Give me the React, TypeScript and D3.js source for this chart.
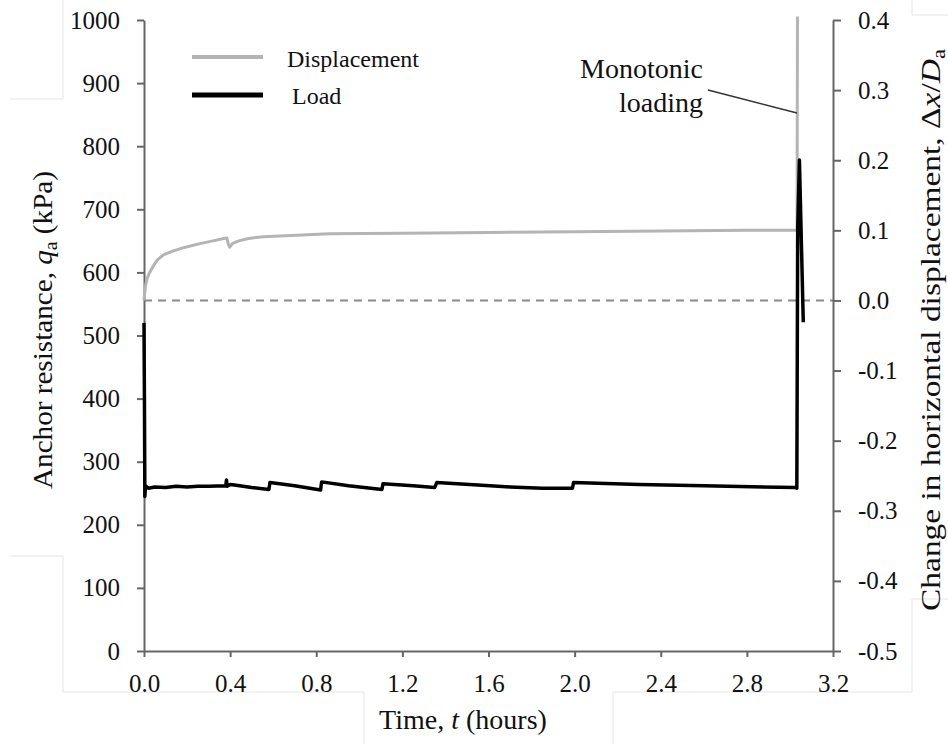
import React, { useEffect, useRef } from 'react'
import * as d3 from 'd3'

// displacement record (right axis, Δx/Da)
const dispTime = [0, 0.003, 0.008, 0.015, 0.028, 0.045, 0.06, 0.09, 0.13, 0.17, 0.245, 0.32, 0.365, 0.385, 0.392, 0.398, 0.41, 0.44, 0.48, 0.553, 0.71, 0.86, 1.2, 1.6, 2.0, 2.4, 2.8, 3.033, 3.035]
const dispValue = [0, 0.01, 0.022, 0.032, 0.041, 0.05, 0.057, 0.065, 0.07, 0.074, 0.08, 0.085, 0.088, 0.089, 0.08, 0.076, 0.081, 0.085, 0.088, 0.091, 0.093, 0.095, 0.096, 0.097, 0.098, 0.099, 0.1, 0.1, 0.405]

// load record (left axis, kPa)
const loadTime = [0, 0.002, 0.004, 0.007, 0.02, 0.05, 0.1, 0.15, 0.2, 0.25, 0.3, 0.38, 0.383, 0.386, 0.4, 0.42, 0.5, 0.58, 0.585, 0.7, 0.82, 0.825, 0.95, 1.105, 1.11, 1.25, 1.35, 1.36, 1.55, 1.7, 1.85, 1.99, 1.995, 2.3, 2.6, 3.026, 3.032, 3.036, 3.044, 3.062]
const loadValue = [520, 400, 245, 262, 258, 260, 259, 261, 260, 261, 261, 262, 271, 261, 264, 263, 259, 256, 267, 262, 255, 268, 262, 256, 265, 262, 259, 267, 263, 260, 258, 258, 267, 264, 262, 259, 258, 667, 778, 521]

const xTicks = [0, 0.4, 0.8, 1.2, 1.6, 2.0, 2.4, 2.8, 3.2]
const leftTicks = [0, 100, 200, 300, 400, 500, 600, 700, 800, 900, 1000]
const rightTicks = [-0.5, -0.4, -0.3, -0.2, -0.1, 0, 0.1, 0.2, 0.3, 0.4]

const FONT = '"Liberation Serif", "Times New Roman", serif'

export default function App() {
  const svgRef = useRef<SVGSVGElement>(null)

  useEffect(() => {
    const svg = d3.select(svgRef.current)
    svg.selectAll('*').remove()

    const x = d3.scaleLinear().domain([0, 3.2]).range([144, 833])
    const yL = d3.scaleLinear().domain([0, 1000]).range([651, 20])
    const yR = d3.scaleLinear().domain([-0.5, 0.4]).range([651, 20])

    // faint edges of pasted boxes in the original figure
    const faint = [
      [[10, 99], [63, 99], [63, 0]],
      [[10, 556], [63, 556], [63, 692], [364, 692], [364, 744]],
      [[613, 744], [613, 692], [912, 692], [912, 599], [948, 599]],
      [[912, 0], [912, 15], [948, 15]],
    ]
    faint.forEach(p => {
      svg.append('path').attr('d', d3.line()(p as [number, number][]))
        .attr('fill', 'none').attr('stroke', '#e6e6e6').attr('stroke-width', 1)
    })

    const styleAxis = (g: any) => {
      g.attr('font-family', FONT).attr('font-size', 25)
      g.select('.domain').attr('stroke', '#666').attr('stroke-width', 2)
      g.selectAll('.tick line').attr('stroke', '#666').attr('stroke-width', 2)
      g.selectAll('.tick text').attr('fill', '#111')
    }

    // zero line for displacement
    svg.append('line')
      .attr('x1', x(0)).attr('x2', x(3.2)).attr('y1', yR(0)).attr('y2', yR(0))
      .attr('stroke', '#8a8a8a').attr('stroke-width', 2).attr('stroke-dasharray', '8 6')

    svg.append('g').attr('transform', 'translate(0,651)')
      .call(d3.axisBottom(x).tickValues(xTicks).tickFormat((d: any) => d.toFixed(1)).tickSize(6).tickSizeOuter(0).tickPadding(17))
      .call(styleAxis)

    svg.append('g').attr('transform', 'translate(144,0)')
      .call(d3.axisLeft(yL).tickValues(leftTicks).tickFormat((d: any) => String(d)).tickSize(7).tickSizeOuter(0).tickPadding(17))
      .call(styleAxis)

    svg.append('g').attr('transform', 'translate(833,0)')
      .call(d3.axisRight(yR).tickValues(rightTicks).tickFormat((d: any) => d.toFixed(1)).tickSize(8).tickSizeOuter(0).tickPadding(17))
      .call(styleAxis)

    const dispLine = d3.line<number>().x((d, i) => x(dispTime[i])).y(d => yR(d))
    svg.append('path').datum(dispValue).attr('d', dispLine)
      .attr('fill', 'none').attr('stroke', '#b4b4b4').attr('stroke-width', 3).attr('stroke-linejoin', 'round')

    const loadLine = d3.line<number>().x((d, i) => x(loadTime[i])).y(d => yL(d))
    svg.append('path').datum(loadValue).attr('d', loadLine)
      .attr('fill', 'none').attr('stroke', '#000').attr('stroke-width', 3.5).attr('stroke-linejoin', 'round')

    const txt = (sel: any, size: number) =>
      sel.attr('font-family', FONT).attr('font-size', size).attr('fill', '#111')

    // legend
    svg.append('line').attr('x1', 192).attr('x2', 263).attr('y1', 57).attr('y2', 57)
      .attr('stroke', '#b4b4b4').attr('stroke-width', 4)
    svg.append('line').attr('x1', 192).attr('x2', 263).attr('y1', 95).attr('y2', 95)
      .attr('stroke', '#000').attr('stroke-width', 5)
    txt(svg.append('text').attr('x', 287).attr('y', 67).text('Displacement'), 24)
    txt(svg.append('text').attr('x', 292).attr('y', 104).text('Load'), 24)

    // annotation
    svg.append('line').attr('x1', 708).attr('y1', 90).attr('x2', 797).attr('y2', 113)
      .attr('stroke', '#333').attr('stroke-width', 1.5)
    txt(svg.append('text').attr('x', 703).attr('y', 78).attr('text-anchor', 'end').text('Monotonic'), 28)
    txt(svg.append('text').attr('x', 703).attr('y', 112).attr('text-anchor', 'end').text('loading'), 28)

    // bottom title
    const bt = txt(svg.append('text').attr('x', 463).attr('y', 729).attr('text-anchor', 'middle'), 28)
    bt.append('tspan').text('Time, ')
    bt.append('tspan').attr('font-style', 'italic').text('t')
    bt.append('tspan').text(' (hours)')

    // left title
    const lt = txt(svg.append('text').attr('transform', 'translate(52,330) rotate(-90)').attr('text-anchor', 'middle')
      .attr('textLength', 318).attr('lengthAdjust', 'spacingAndGlyphs'), 28)
    lt.append('tspan').text('Anchor resistance, ')
    lt.append('tspan').attr('font-style', 'italic').text('q')
    lt.append('tspan').attr('font-size', 19).attr('dy', 5).text('a')
    lt.append('tspan').attr('dy', -5).text(' (kPa)')

    // right title
    const rt = txt(svg.append('text').attr('transform', 'translate(940,330) rotate(-90)').attr('text-anchor', 'middle')
      .attr('textLength', 562).attr('lengthAdjust', 'spacingAndGlyphs'), 28)
    rt.append('tspan').text('Change  in horizontal displacement, Δ')
    rt.append('tspan').attr('font-style', 'italic').text('x')
    rt.append('tspan').text('/')
    rt.append('tspan').attr('font-style', 'italic').text('D')
    rt.append('tspan').attr('font-size', 19).attr('dy', 5).text('a')
  }, [])

  return (
    <div>
      <svg ref={svgRef} width={948} height={744}
        style={{ position: 'absolute', left: 0, top: 0, background: '#fff' }} />
    </div>
  )
}
